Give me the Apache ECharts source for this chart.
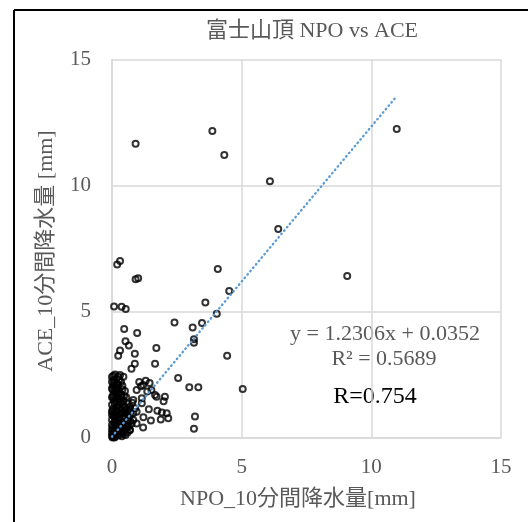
<!DOCTYPE html>
<html>
<head>
<meta charset="utf-8">
<script src="https://cdn.jsdelivr.net/npm/echarts@6.0.0/dist/echarts.min.js"></script>
<style>
html,body{margin:0;padding:0;background:#fff;}
#chart{width:528px;height:522px;}
</style>
</head>
<body>
<div id="chart"></div>
<script>
// ---- Data ----
const titleText = '富士山頂 NPO vs ACE';
const xAxisName = 'NPO_10分間降水量[mm]';
const yAxisName = 'ACE_10分間降水量 [mm]';
const axisTicks = [0, 5, 10, 15];
const equationText = 'y = 1.2306x + 0.0352';
const r2Text = 'R² = 0.5689';
const rText = 'R=0.754';
const slope = 1.2306;
const intercept = 0.0352;

// scattered points (NPO, ACE)
const upperPoints = [
  [0.91,11.66],[3.87,12.16],[4.33,11.21],[10.98,12.24],[6.09,10.17],[6.41,8.27],[9.07,6.41],
  [0.31,7.0],[0.20,6.87],[1.01,6.32],[0.91,6.28],[4.08,6.69],[4.52,5.81],[3.60,5.36],[4.04,4.91],
  [0.08,5.2],[0.37,5.19],[0.53,5.1],[2.41,4.56],[3.47,4.54],[3.11,4.37],[0.47,4.31],[0.97,4.15],
  [0.52,3.82],[0.65,3.65],[0.31,3.45],[0.24,3.24],[0.88,3.32],[1.71,3.55],[3.16,3.9],[3.16,3.76],
  [4.44,3.24],[1.66,2.93],[0.88,2.93],[0.75,2.73],[2.55,2.36],[2.98,1.99],[3.33,1.99],[5.04,1.92],
  [3.2,0.83],[3.16,0.35]
];
const middlePoints = [
  [1.05,2.2],[1.3,2.25],[1.45,2.16],[1.12,2.03],[1.2,2.08],[1.66,1.69],[1.72,1.62],[2.04,1.62],
  [1.99,1.44],[1.36,1.83],[1.52,1.88],[1.15,1.56],[1.15,1.36],[0.82,1.49],[0.78,1.38],[0.95,1.88],
  [1.42,1.12],[1.75,1.06],[1.92,0.99],[2.11,0.96],[1.21,0.8],[1.5,0.67],[1.88,0.71],[2.17,0.76],
  [1.2,0.4],[0.69,1.22],[0.89,1.16],[0.82,0.96],[0.95,1.02],[0.63,0.76],[0.76,0.56],[0.57,0.43],
  [0.82,0.69],[0.95,0.56],[0.69,0.3]
];
const densePoints = [
  [0.05,2.45],[0.12,2.5],[0.24,2.41],[0.31,2.48],[0.44,2.41],
  [0.0,2.21],[0.08,2.3],[0.12,2.02],[0.24,2.08],[0.18,2.15],[0.35,2.2],[0.05,2.05],
  [0.02,1.9],[0.1,1.85],[0.2,1.95],[0.3,1.8],[0.4,1.9],[0.15,1.75],[0.5,1.85],[0.05,1.7],
  [0.03,1.6],[0.12,1.55],[0.22,1.65],[0.3,1.5],[0.38,1.6],[0.45,1.45],[0.08,1.45],[0.55,1.6],
  [0.0,1.3],[0.1,1.35],[0.18,1.2],[0.27,1.3],[0.35,1.15],[0.42,1.3],[0.5,1.2],[0.6,1.35],[0.05,1.15],
  [0.02,1.0],[0.1,0.95],[0.2,1.05],[0.28,0.9],[0.36,1.0],[0.45,0.85],[0.55,0.95],[0.65,1.05],[0.15,0.85],[0.7,0.9],
  [0.0,0.7],[0.08,0.6],[0.16,0.75],[0.24,0.55],[0.32,0.7],[0.4,0.6],[0.48,0.75],[0.56,0.55],[0.63,0.76],[0.7,0.65],[0.12,0.5],
  [0.02,0.4],[0.1,0.3],[0.18,0.45],[0.26,0.25],[0.34,0.4],[0.42,0.3],[0.5,0.45],[0.57,0.43],[0.69,0.3],[0.05,0.2],
  [0.0,0.05],[0.05,0.1],[0.1,0.0],[0.15,0.15],[0.22,0.08],[0.3,0.12],[0.38,0.05],[0.45,0.15],[0.52,0.1],[0.6,0.2],[0.02,0.0],[0.08,0.02],
  [0.0,2.4],[0.0,1.95],[0.0,1.6],[0.0,1.05],[0.0,0.9],[0.0,0.5],[0.0,0.3],[0.0,0.15],
  [0.06,2.15],[0.14,1.9],[0.25,1.75],[0.35,1.7],[0.2,1.4],[0.33,1.4],[0.15,1.05],[0.25,0.8],
  [0.4,0.95],[0.3,0.55],[0.45,0.55],[0.6,0.6],[0.4,0.2],[0.2,0.25],[0.12,0.7],[0.06,0.85],
  [0.48,1.05],[0.52,0.3],[0.65,0.45],[0.28,2.3],[0.4,2.05],[0.47,1.65],[0.58,1.1],[0.72,1.1]
];
const trendRange = [0, 10.98];

// ---- Chart ----
const serif = '"Liberation Serif", "Times New Roman", "Noto Sans CJK JP", serif';
const gray = '#595959';
const gridColor = '#d9d9d9';
const allPoints = upperPoints.concat(middlePoints, densePoints);
const trendData = trendRange.map(x => [x, slope * x + intercept]);

const chart = echarts.init(document.getElementById('chart'), null, {renderer: 'canvas'});
chart.setOption({
  animation: false,
  backgroundColor: '#fff',
  grid: {left: 112, top: 59.5, width: 389, height: 378},
  xAxis: {
    type: 'value', min: axisTicks[0], max: axisTicks[axisTicks.length - 1], interval: 5,
    axisLine: {show: true, lineStyle: {color: gridColor, width: 1.5}},
    axisTick: {show: false},
    splitLine: {show: true, lineStyle: {color: gridColor, width: 1.5}},
    axisLabel: {color: gray, fontSize: 21, fontFamily: serif, margin: 19}
  },
  yAxis: {
    type: 'value', min: axisTicks[0], max: axisTicks[axisTicks.length - 1], interval: 5,
    axisLine: {show: true, lineStyle: {color: gridColor, width: 1.5}},
    axisTick: {show: false},
    splitLine: {show: true, lineStyle: {color: gridColor, width: 1.5}},
    axisLabel: {color: gray, fontSize: 21, fontFamily: serif, margin: 21}
  },
  series: [
    {
      type: 'scatter',
      data: allPoints,
      symbol: 'circle',
      symbolSize: 6,
      itemStyle: {color: 'rgba(0,0,0,0)', borderColor: '#000', borderWidth: 2}
    },
    {
      type: 'line',
      data: trendData,
      showSymbol: false,
      symbol: 'none',
      lineStyle: {color: '#5b9bd5', width: 2.4, type: [0.5, 3.9], cap: 'round'},
      z: 5
    }
  ],
  graphic: [
    {type: 'line', shape: {x1: 14, y1: 10, x2: 528, y2: 10}, style: {stroke: '#000', lineWidth: 2}},
    {type: 'line', shape: {x1: 14, y1: 10, x2: 14, y2: 522}, style: {stroke: '#000', lineWidth: 2}},
    {type: 'text', x: 312, y: 31, style: {text: titleText, fill: gray, font: '22px ' + serif, textAlign: 'center', textVerticalAlign: 'middle'}},
    {type: 'text', x: 298, y: 499, style: {text: xAxisName, fill: gray, font: '22px ' + serif, textAlign: 'center', textVerticalAlign: 'middle'}},
    {type: 'text', x: 46, y: 251, rotation: Math.PI / 2, style: {text: yAxisName, fill: gray, font: '22px ' + serif, textAlign: 'center', textVerticalAlign: 'middle'}},
    {type: 'text', x: 385, y: 334, style: {text: equationText, fill: gray, font: '22px ' + serif, textAlign: 'center', textVerticalAlign: 'middle'}},
    {type: 'text', x: 384, y: 359, style: {text: r2Text, fill: gray, font: '22px ' + serif, textAlign: 'center', textVerticalAlign: 'middle'}},
    {type: 'text', x: 375, y: 397, style: {text: rText, fill: '#000', font: '24px ' + serif, textAlign: 'center', textVerticalAlign: 'middle'}}
  ]
});
</script>
</body>
</html>
